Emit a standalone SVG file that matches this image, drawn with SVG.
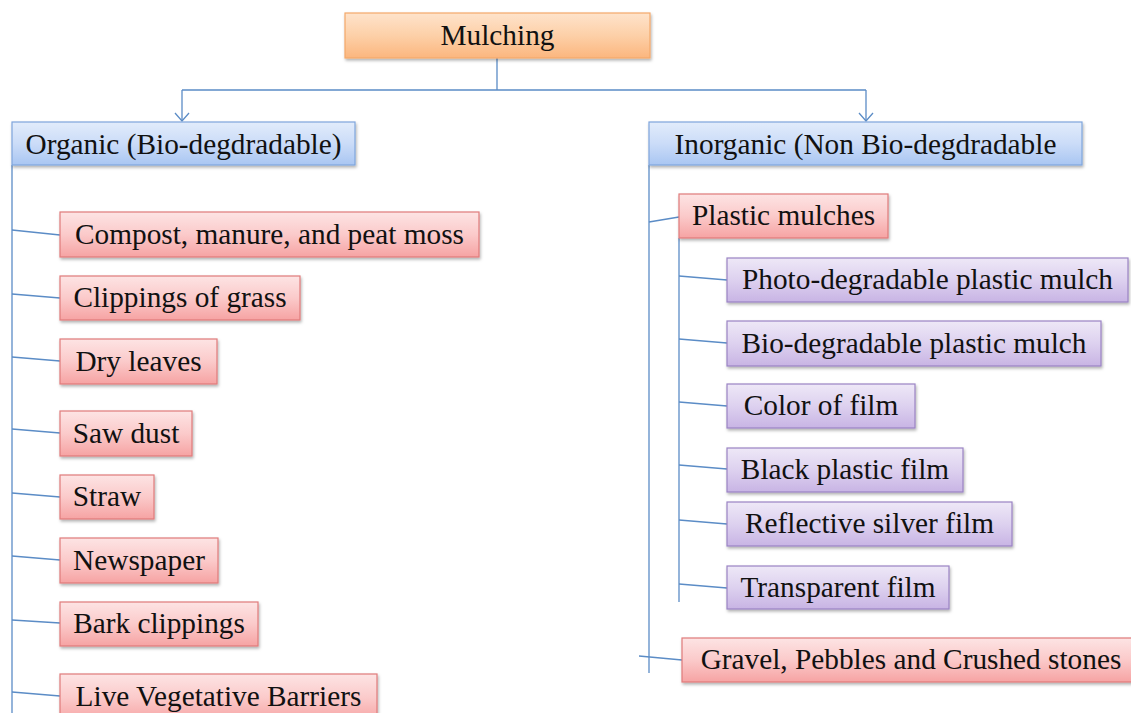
<svg xmlns="http://www.w3.org/2000/svg" width="1131" height="713" viewBox="0 0 1131 713">
<defs>
<linearGradient id="gO" x1="0" y1="0" x2="0" y2="1"><stop offset="0" stop-color="#fee3cb"/><stop offset="0.5" stop-color="#fdd0a8"/><stop offset="1" stop-color="#fbb67e"/></linearGradient>
<linearGradient id="gB" x1="0" y1="0" x2="0" y2="1"><stop offset="0" stop-color="#e2ecfb"/><stop offset="0.5" stop-color="#cbdcf8"/><stop offset="1" stop-color="#a9c6f2"/></linearGradient>
<linearGradient id="gR" x1="0" y1="0" x2="0" y2="1"><stop offset="0" stop-color="#fde4e4"/><stop offset="0.5" stop-color="#fbcaca"/><stop offset="1" stop-color="#f6a3a3"/></linearGradient>
<linearGradient id="gP" x1="0" y1="0" x2="0" y2="1"><stop offset="0" stop-color="#eee8f7"/><stop offset="0.5" stop-color="#ddd1ef"/><stop offset="1" stop-color="#c8b4e4"/></linearGradient>
<filter id="sh" x="-5%" y="-10%" width="110%" height="130%"><feDropShadow dx="1" dy="2" stdDeviation="1.5" flood-color="#000" flood-opacity="0.3"/></filter>
<marker id="arr" markerWidth="12" markerHeight="16" refX="10" refY="8" orient="auto" markerUnits="userSpaceOnUse" viewBox="0 0 12 16"><path d="M2,1 L10,8 L2,15" fill="none" stroke="#5b8cc6" stroke-width="1.3"/></marker>
</defs>
<style>
.o{fill:url(#gO);stroke:#f4a86a;stroke-width:1.2;filter:url(#sh)}
.b{fill:url(#gB);stroke:#7fa5dc;stroke-width:1.2;filter:url(#sh)}
.r{fill:url(#gR);stroke:#e07b7b;stroke-width:1.2;filter:url(#sh)}
.p{fill:url(#gP);stroke:#9a83c4;stroke-width:1.2;filter:url(#sh)}
text{font-family:"Liberation Serif","Times New Roman",serif;font-size:29.3px;fill:#111;text-anchor:middle}
.c{fill:none;stroke:#5b8cc6;stroke-width:1.3}
</style>
<rect width="1131" height="713" fill="#fff"/>
<g id="connectors">
<path class="c" d="M497,58 V90 M182,90 H866"/>
<path class="c" d="M182,90 V121" marker-end="url(#arr)"/>
<path class="c" d="M866,90 V121" marker-end="url(#arr)"/>
<path class="c" d="M12,165 V713"/>
<path class="c" d="M12,230 L60,235 M12,294 L60,298 M12,357 L60,361 M12,429 L60,433 M12,493 L60,497 M12,556 L60,560 M12,620 L60,623 M12,692 L60,696"/>
<path class="c" d="M649,165 V673"/>
<path class="c" d="M649,222 L679,217"/>
<path class="c" d="M679,238 V602"/>
<path class="c" d="M679,276 L727,280 M679,339 L727,343 M679,402 L727,406 M679,465 L727,469 M679,520 L727,524 M679,584 L727,588"/>
<path class="c" d="M639,656 L682,660"/>
</g>
<g id="mulching"><rect class="o" x="345" y="13" width="305" height="45"/><text x="497.5" y="44.5">Mulching</text></g>
<g id="organic"><rect class="b" x="12" y="122" width="343" height="43"/><text x="183.5" y="154">Organic (Bio-degdradable)</text></g>
<g id="inorganic"><rect class="b" x="649" y="122" width="433" height="43"/><text x="865.5" y="154">Inorganic (Non Bio-degdradable</text></g>
<g id="compost"><rect class="r" x="60" y="212" width="419" height="45"/><text x="269.5" y="244">Compost, manure, and peat moss</text></g>
<g id="grass"><rect class="r" x="60" y="276" width="240" height="44"/><text x="180" y="307">Clippings of grass</text></g>
<g id="leaves"><rect class="r" x="60" y="339" width="157" height="45"/><text x="138.5" y="371">Dry leaves</text></g>
<g id="sawdust"><rect class="r" x="60" y="411" width="132" height="45"/><text x="126" y="443">Saw dust</text></g>
<g id="straw"><rect class="r" x="60" y="475" width="94" height="44"/><text x="107" y="506">Straw</text></g>
<g id="newspaper"><rect class="r" x="60" y="538" width="158" height="45"/><text x="139" y="570">Newspaper</text></g>
<g id="bark"><rect class="r" x="60" y="602" width="198" height="44"/><text x="159" y="633">Bark clippings</text></g>
<g id="live"><rect class="r" x="60" y="674" width="317" height="48"/><text x="218.5" y="706">Live Vegetative Barriers</text></g>
<g id="plastic"><rect class="r" x="679" y="194" width="209" height="44"/><text x="783.5" y="225">Plastic mulches</text></g>
<g id="photo"><rect class="p" x="727" y="258" width="401" height="44"/><text x="927.5" y="289">Photo-degradable plastic mulch</text></g>
<g id="biodeg"><rect class="p" x="727" y="321" width="374" height="45"/><text x="914" y="353">Bio-degradable plastic mulch</text></g>
<g id="color"><rect class="p" x="727" y="384" width="188" height="44"/><text x="821" y="415">Color of film</text></g>
<g id="black"><rect class="p" x="727" y="448" width="236" height="44"/><text x="845" y="479">Black plastic film</text></g>
<g id="reflective"><rect class="p" x="727" y="502" width="285" height="44"/><text x="869.5" y="533">Reflective silver film</text></g>
<g id="transparent"><rect class="p" x="727" y="566" width="222" height="43"/><text x="838" y="597">Transparent film</text></g>
<g id="gravel"><rect class="r" x="682" y="638" width="460" height="44"/><text x="911" y="669">Gravel, Pebbles and Crushed stones</text></g>
</svg>
